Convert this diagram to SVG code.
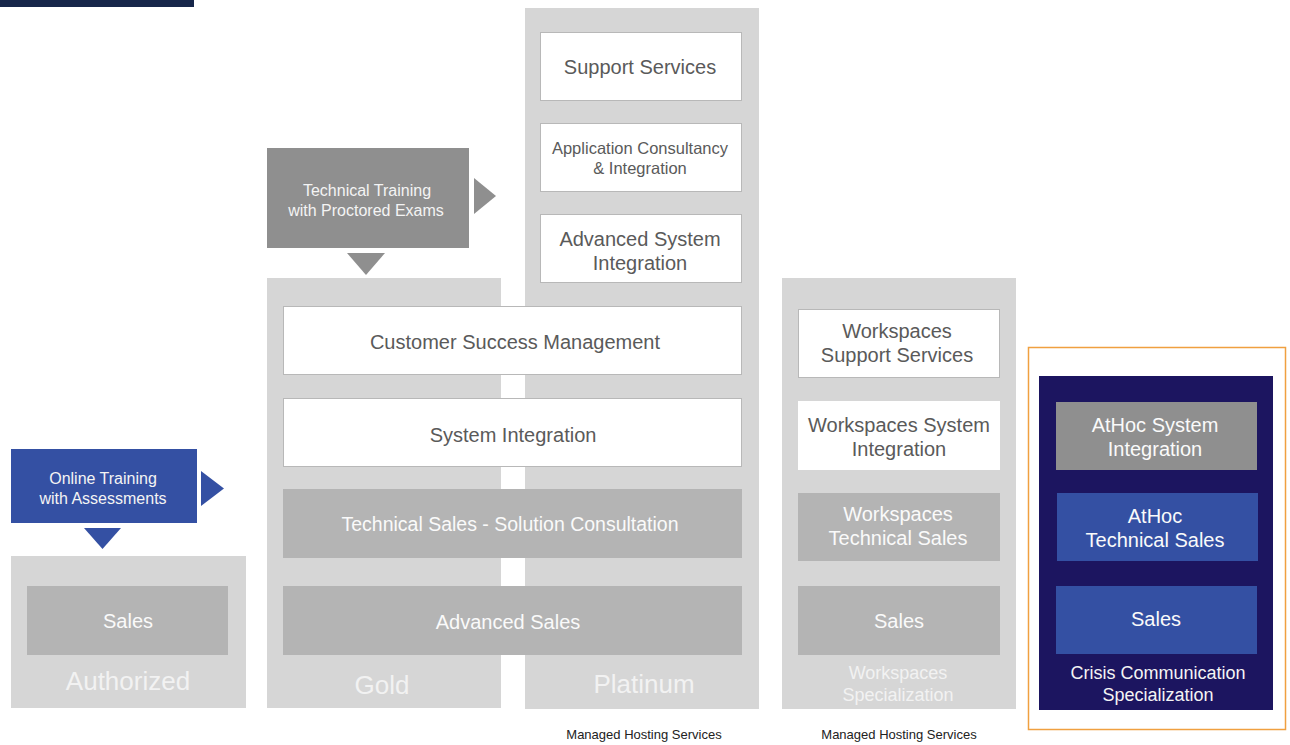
<svg xmlns="http://www.w3.org/2000/svg" width="1290" height="745" viewBox="0 0 1290 745">
<style>
text{font-family:"Liberation Sans",Arial,sans-serif;text-anchor:middle}
.col{fill:#d6d6d6}
.wb{fill:#fff;stroke:#b8b8b8;stroke-width:1}
.gb{fill:#b4b4b4}
.dg{fill:#8f8f8f}
.bl{fill:#3450a3}
.tw{fill:#5a5a5a;font-size:20px}
.tl{fill:#fafafa;font-size:20px}
.tb{fill:#f2f2f2;font-size:26px}
.ts{fill:#f4f4f4;font-size:16px}
.tc{fill:#f4f4f4;font-size:18px}
.mh{fill:#222;font-size:13px}
</style>
<rect x="0" y="0" width="194" height="7" fill="#16264a"/>
<g id="columns">
<rect id="col-authorized" class="col" x="11" y="556" width="235" height="152"/>
<rect id="col-gold" class="col" x="267" y="278" width="234" height="430"/>
<rect id="col-platinum" class="col" x="525" y="8" width="234" height="701"/>
<rect id="col-workspaces" class="col" x="782" y="278" width="234" height="431"/>
<rect x="1028.5" y="347.5" width="257" height="382" fill="none" stroke="#f0a040" stroke-width="1.5"/>
<rect id="col-crisis" x="1039" y="376" width="234" height="334" fill="#1c1560"/>
</g>
<g id="n-support"><rect class="wb" x="540.5" y="32.5" width="201" height="68"/><text class="tw" x="640" y="74">Support Services</text></g>
<g id="n-appcons"><rect class="wb" x="540.5" y="123.5" width="201" height="68"/><text class="tw" x="640" y="154" style="font-size:16.5px">Application Consultancy</text><text class="tw" x="640" y="174" style="font-size:16.5px">&amp; Integration</text></g>
<g id="n-asi"><rect class="wb" x="540.5" y="214.5" width="201" height="68"/><text class="tw" x="640" y="246">Advanced System</text><text class="tw" x="640" y="270">Integration</text></g>
<g id="n-csm"><rect class="wb" x="283.5" y="306.5" width="458" height="68"/><text class="tw" x="515" y="349">Customer Success Management</text></g>
<g id="n-si"><rect class="wb" x="283.5" y="398.5" width="458" height="68"/><text class="tw" x="513" y="442">System Integration</text></g>
<g id="n-tssc"><rect class="gb" x="283" y="489" width="459" height="69"/><text class="tl" x="510" y="531" style="font-size:19.5px">Technical Sales - Solution Consultation</text></g>
<g id="n-advsales"><rect class="gb" x="283" y="586" width="459" height="69"/><text class="tl" x="508" y="629">Advanced Sales</text></g>
<g id="n-tt"><rect class="dg" x="267" y="148" width="202" height="100"/><text class="ts" x="367" y="196">Technical Training</text><text class="ts" x="366" y="216">with Proctored Exams</text></g>
<g id="n-ot"><rect class="bl" x="11" y="449" width="186" height="74"/><text class="ts" x="103" y="484">Online Training</text><text class="ts" x="103" y="504">with Assessments</text></g>
<g id="n-authsales"><rect class="gb" x="27" y="586" width="201" height="69"/><text class="tl" x="128" y="628">Sales</text></g>
<g id="n-wss"><rect class="wb" x="798.5" y="309.5" width="201" height="68"/><text class="tw" x="897" y="338">Workspaces</text><text class="tw" x="897" y="362">Support Services</text></g>
<g id="n-wsi"><rect fill="#fff" x="798" y="401" width="202" height="69"/><text class="tw" x="899" y="432">Workspaces System</text><text class="tw" x="899" y="456">Integration</text></g>
<g id="n-wts"><rect class="gb" x="798" y="493" width="202" height="68"/><text class="tl" x="898" y="521">Workspaces</text><text class="tl" x="898" y="545">Technical Sales</text></g>
<g id="n-wsales"><rect class="gb" x="798" y="586" width="202" height="69"/><text class="tl" x="899" y="628">Sales</text></g>
<g id="n-athsi"><rect class="dg" x="1056" y="402" width="201" height="68"/><text class="tl" x="1155" y="432">AtHoc System</text><text class="tl" x="1155" y="456">Integration</text></g>
<g id="n-athts"><rect class="bl" x="1057" y="493" width="201" height="68"/><text class="tl" x="1155" y="523">AtHoc</text><text class="tl" x="1155" y="547">Technical Sales</text></g>
<g id="n-athsales"><rect class="bl" x="1056" y="586" width="201" height="68"/><text class="tl" x="1156" y="626">Sales</text></g>
<g id="labels">
<text class="tb" x="128" y="690">Authorized</text>
<text class="tb" x="382" y="694">Gold</text>
<text class="tb" x="644" y="693">Platinum</text>
<text class="tc" x="898" y="679" style="fill:#f2f2f2">Workspaces</text>
<text class="tc" x="898" y="701" style="fill:#f2f2f2">Specialization</text>
<text class="tc" x="1158" y="679">Crisis Communication</text>
<text class="tc" x="1158" y="701">Specialization</text>
<text class="mh" x="644" y="739">Managed Hosting Services</text>
<text class="mh" x="899" y="739">Managed Hosting Services</text>
</g>
<g id="connectors">
<polygon class="dg" points="474,178 496,196 474,214"/>
<polygon class="dg" points="347,253 385,253 366,275"/>
<polygon class="bl" points="201,471 224,488.5 201,506"/>
<polygon class="bl" points="84,528 121,528 102.5,549"/>
</g>
</svg>
